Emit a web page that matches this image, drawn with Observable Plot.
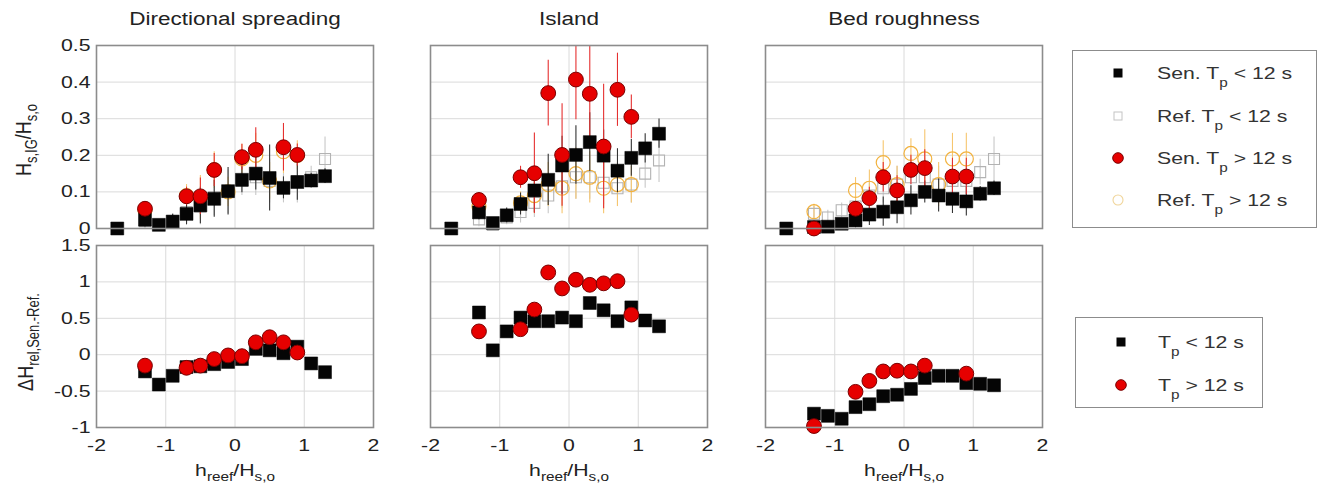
<!DOCTYPE html>
<html><head><meta charset="utf-8">
<script src="https://cdn.jsdelivr.net/npm/d3@7"></script>
<script src="https://cdn.jsdelivr.net/npm/@observablehq/plot@0.6"></script>
<style>
body{margin:0;background:#fff;font-family:"Liberation Sans",Arial,sans-serif;color:#222;}
#root{position:relative;width:1323px;height:502px;overflow:hidden;background:#fff;}
.pl{position:absolute;}
.pl svg{overflow:visible;}
.t{position:absolute;white-space:nowrap;transform:translate(-50%,-50%) scaleX(1.25);line-height:1;}
.ty{position:absolute;white-space:nowrap;transform:translate(-50%,-50%) rotate(-90deg) scaleY(1.25);line-height:1;}
.sb{font-size:0.72em;position:relative;top:0.42em;}
.lt .sb{top:0.62em;}
.legend{position:absolute;border:1.5px solid #8c8c8c;background:#fff;box-sizing:border-box;}
.le{position:absolute;left:0;width:100%;height:0;}
.le svg{position:absolute;left:35px;top:-10px;}
.le .lt{position:absolute;white-space:nowrap;font-size:17px;line-height:1;transform-origin:left center;transform:translateY(-50%) scaleX(1.25);color:#333;}
</style>
</head><body>
<div id="root"></div>
<script>
// ---------- data ----------
const panelTitles = ["Directional spreading", "Island", "Bed roughness"];
const xLo = [-1.7, -1.3, -1.1, -0.9, -0.7, -0.5, -0.3, -0.1, 0.1, 0.3, 0.5, 0.7, 0.9, 1.1, 1.3];
const xHi = [-1.3, -0.7, -0.5, -0.3, -0.1, 0.1, 0.3, 0.5, 0.7, 0.9];
const xDelta = [-1.3, -1.1, -0.9, -0.7, -0.5, -0.3, -0.1, 0.1, 0.3, 0.5, 0.7, 0.9, 1.1, 1.3];
const yTicksTop = [0, 0.1, 0.2, 0.3, 0.4, 0.5];
const yTicksBot = [-1, -0.5, 0, 0.5, 1, 1.5];
const xTicks = [-2, -1, 0, 1, 2];

// Directional spreading: Hs,IG/Hs,o
const dirSenLo    = [0.00, 0.024, 0.010, 0.019, 0.040, 0.063, 0.081, 0.102, 0.133, 0.150, 0.138, 0.111, 0.127, 0.131, 0.143];
const dirSenLoErr = [0.005, 0.02, 0.01, 0.02, 0.03, 0.05, 0.05, 0.065, 0.035, 0.045, 0.09, 0.03, 0.05, 0.02, 0.02];
const dirRefLo    = [0.00, 0.02, 0.01, 0.02, 0.045, 0.06, 0.085, 0.10, 0.13, 0.14, 0.13, 0.11, 0.13, 0.14, 0.19];
const dirRefLoErr = [0.005, 0.02, 0.01, 0.02, 0.03, 0.05, 0.05, 0.06, 0.04, 0.05, 0.06, 0.04, 0.06, 0.03, 0.06];
const dirSenHi    = [0.054, 0.088, 0.088, 0.160, null, 0.195, 0.215, null, 0.222, 0.201];
const dirSenHiErr = [0.02, 0.025, 0.05, 0.045, 0, 0.035, 0.06, 0, 0.065, 0.03];
const dirRefHi    = [0.05, 0.09, 0.085, 0.16, 0.10, 0.19, 0.20, 0.13, 0.21, 0.20];
const dirRefHiErr = [0.02, 0.03, 0.06, 0.05, 0.04, 0.04, 0.06, 0.05, 0.06, 0.04];

// Island
const islSenLo    = [0.00, 0.044, 0.015, 0.036, 0.067, 0.104, 0.133, 0.172, 0.201, 0.236, 0.199, 0.158, 0.193, 0.219, 0.259];
const islSenLoErr = [0.005, 0.02, 0.01, 0.02, 0.03, 0.06, 0.07, 0.08, 0.08, 0.08, 0.07, 0.06, 0.05, 0.04, 0.04];
const islRefLo    = [0.00, 0.025, 0.01, 0.03, 0.045, 0.07, 0.09, 0.115, 0.14, 0.14, 0.125, 0.11, 0.12, 0.15, 0.186];
const islRefLoErr = [0.005, 0.02, 0.01, 0.02, 0.03, 0.04, 0.05, 0.06, 0.06, 0.06, 0.06, 0.05, 0.05, 0.04, 0.06];
const islSenHi    = [0.078, 0.140, 0.151, 0.370, 0.201, 0.407, 0.368, 0.224, 0.379, 0.305];
const islSenHiErr = [0.02, 0.03, 0.11, 0.09, 0.14, 0.11, 0.15, 0.17, 0.10, 0.06];
const islRefHi    = [0.06, 0.07, 0.09, 0.12, 0.11, 0.15, 0.14, 0.11, 0.12, 0.12];
const islRefHiErr = [0.02, 0.03, 0.05, 0.06, 0.07, 0.07, 0.07, 0.07, 0.06, 0.05];

// Bed roughness
const bedSenLo    = [0.00, 0.004, 0.005, 0.013, 0.022, 0.038, 0.046, 0.058, 0.077, 0.10, 0.09, 0.081, 0.074, 0.095, 0.110];
const bedSenLoErr = [0.005, 0.01, 0.01, 0.01, 0.02, 0.03, 0.04, 0.045, 0.04, 0.03, 0.045, 0.04, 0.04, 0.02, 0.02];
const bedRefLo    = [0.00, 0.04, 0.03, 0.05, 0.06, 0.09, 0.11, 0.12, 0.14, 0.14, 0.12, 0.13, 0.13, 0.154, 0.19];
const bedRefLoErr = [0.005, 0.02, 0.02, 0.02, 0.03, 0.04, 0.04, 0.05, 0.05, 0.05, 0.05, 0.05, 0.05, 0.035, 0.06];
const bedSenHi    = [0.00, 0.054, 0.083, 0.140, 0.104, 0.160, 0.165, null, 0.142, 0.142];
const bedSenHiErr = [0.005, 0.02, 0.03, 0.04, 0.04, 0.04, 0.05, 0, 0.05, 0.05];
const bedRefHi    = [0.046, 0.104, 0.11, 0.18, 0.12, 0.205, 0.19, 0.12, 0.19, 0.19];
const bedRefHiErr = [0.02, 0.035, 0.05, 0.06, 0.05, 0.04, 0.08, 0.06, 0.07, 0.07];

// Delta H rel, Sen.-Ref.
const dirDeltaLo = [-0.23, -0.41, -0.29, -0.17, -0.16, -0.13, -0.10, -0.06, 0.08, 0.06, 0.02, 0.11, -0.12, -0.24];
const dirDeltaHi = [-0.15, -0.18, -0.15, -0.06, -0.01, -0.02, 0.17, 0.24, 0.17, 0.03];
const islDeltaLo = [0.58, 0.06, 0.32, 0.51, 0.46, 0.46, 0.51, 0.46, 0.71, 0.61, 0.46, 0.65, 0.47, 0.39];
const islDeltaHi = [0.32, 0.35, 0.62, 1.13, 0.91, 1.03, 0.96, 0.98, 1.01, 0.55];
const bedDeltaLo = [-0.81, -0.84, -0.88, -0.72, -0.68, -0.57, -0.55, -0.47, -0.32, -0.29, -0.29, -0.39, -0.40, -0.42];
const bedDeltaHi = [-0.98, -0.51, -0.36, -0.23, -0.22, -0.23, -0.15, null, null, -0.26];

// ---------- assembly ----------
const rows = (xs, ys, es) => xs.map((x, i) => ({x, y: ys[i], e: es ? es[i] : 0})).filter(d => d.y != null);
const topSets = [
  {senLo: rows(xLo, dirSenLo, dirSenLoErr), refLo: rows(xLo, dirRefLo, dirRefLoErr), senHi: rows(xHi, dirSenHi, dirSenHiErr), refHi: rows(xHi, dirRefHi, dirRefHiErr)},
  {senLo: rows(xLo, islSenLo, islSenLoErr), refLo: rows(xLo, islRefLo, islRefLoErr), senHi: rows(xHi, islSenHi, islSenHiErr), refHi: rows(xHi, islRefHi, islRefHiErr)},
  {senLo: rows(xLo, bedSenLo, bedSenLoErr), refLo: rows(xLo, bedRefLo, bedRefLoErr), senHi: rows(xHi, bedSenHi, bedSenHiErr), refHi: rows(xHi, bedRefHi, bedRefHiErr)}
];
const botSets = [
  {lo: rows(xDelta, dirDeltaLo), hi: rows(xHi, dirDeltaHi)},
  {lo: rows(xDelta, islDeltaLo), hi: rows(xHi, islDeltaHi)},
  {lo: rows(xDelta, bedDeltaLo), hi: rows(xHi, bedDeltaHi)}
];

const C = {
  sen: "#050505", senErr: "#333333",
  ref: "#b3b3b3", refErr: "#c8c8c8",
  red: "#e60000", redStroke: "#7a0000", redErr: "#e53030",
  org: "#f2b23e", orgErr: "#f6c66f",
  grid: "#dadada", frame: "#8c8c8c"
};

const colLeft = [96, 430, 765];
const pw = 277;
const rowTop = [45, 245];
const rowH = [183, 182];
const root = document.getElementById("root");

function stretchTicks(svg) {
  svg.querySelectorAll('g[aria-label$="tick label"] text').forEach(t => {
    const tr = t.getAttribute("transform");
    if (tr) t.setAttribute("transform", tr + " scale(1.25,1)");
    else {
      const x = +(t.getAttribute("x") || 0), y = +(t.getAttribute("y") || 0);
      t.setAttribute("transform", `translate(${x},${y}) scale(1.25,1) translate(${-x},${-y})`);
    }
  });
}

function makePanel(r, c) {
  const top = r === 0;
  const mL = 50, mR = 12, mT = 12, mB = top ? 12 : 40;
  const h = rowH[r];
  const marks = [
    Plot.gridY(top ? [0.1, 0.2, 0.3, 0.4] : [-0.5, 0, 0.5, 1], {stroke: C.grid, strokeOpacity: 1, strokeWidth: 1}),
    Plot.gridX(top ? [0] : [-1, 0, 1], {stroke: C.grid, strokeOpacity: 1, strokeWidth: 1})
  ];
  if (c === 0) marks.push(Plot.axisY(top ? yTicksTop : yTicksBot, {tickSize: 0, tickPadding: 6, tickFormat: d => String(d), label: null, fill: "#222"}));
  if (!top) marks.push(Plot.axisX(xTicks, {tickSize: 0, tickPadding: 11, tickFormat: d => String(d), label: null, fill: "#222"}));
  if (top) {
    const s = topSets[c];
    const err = (data, stroke) => Plot.ruleX(data, {x: "x", y1: d => d.y - d.e, y2: d => d.y + d.e, stroke, strokeWidth: 1.1, clip: true});
    marks.push(
      err(s.refLo, C.refErr),
      err(s.refHi, C.orgErr),
      Plot.dot(s.refLo, {x: "x", y: "y", symbol: "square", r: 6.2, fill: "none", stroke: C.ref, strokeWidth: 1.1}),
      Plot.dot(s.refHi, {x: "x", y: "y", r: 7, fill: "none", stroke: C.org, strokeWidth: 1.2}),
      err(s.senLo, C.senErr),
      err(s.senHi, C.redErr),
      Plot.dot(s.senLo, {x: "x", y: "y", symbol: "square", r: 7.3, fill: C.sen, stroke: "#000", strokeWidth: 0.5}),
      Plot.dot(s.senHi, {x: "x", y: "y", r: 7.4, fill: C.red, stroke: C.redStroke, strokeWidth: 1})
    );
  } else {
    const s = botSets[c];
    marks.push(
      Plot.dot(s.lo, {x: "x", y: "y", symbol: "square", r: 7.3, fill: C.sen, stroke: "#000", strokeWidth: 0.5}),
      Plot.dot(s.hi, {x: "x", y: "y", r: 7.4, fill: C.red, stroke: C.redStroke, strokeWidth: 1})
    );
  }
  marks.push(Plot.frame({stroke: C.frame, strokeWidth: 1.6}));
  const svg = Plot.plot({
    width: pw + mL + mR,
    height: h + mT + mB,
    marginLeft: mL, marginRight: mR, marginTop: mT, marginBottom: mB,
    x: {domain: [-2, 2], axis: null},
    y: {domain: top ? [0, 0.5] : [-1, 1.5], axis: null},
    style: {background: "transparent", fontSize: "17px", fontFamily: "'Liberation Sans', Arial, sans-serif", color: "#222", overflow: "visible"},
    marks
  });
  stretchTicks(svg);
  const div = document.createElement("div");
  div.className = "pl";
  div.style.left = (colLeft[c] - mL) + "px";
  div.style.top = (rowTop[r] - mT) + "px";
  div.appendChild(svg);
  root.appendChild(div);
}

for (let r = 0; r < 2; r++) for (let c = 0; c < 3; c++) makePanel(r, c);

function addText(html, x, y, size, cls) {
  const d = document.createElement("div");
  d.className = cls || "t";
  d.style.left = x + "px";
  d.style.top = y + "px";
  d.style.fontSize = size + "px";
  d.innerHTML = html;
  root.appendChild(d);
}

panelTitles.forEach((t, i) => addText(t, colLeft[i] + pw / 2, 19, 18));
colLeft.forEach(l => addText('h<span class="sb">reef</span>/H<span class="sb">s,o</span>', l + pw / 2, 470, 17));
addText('H<span class="sb">s,IG</span>/H<span class="sb">s,o</span>', 23, 140, 18, "ty");
addText('&Delta;H<span class="sb">rel,Sen.-Ref.</span>', 25, 342, 18, "ty");

// ---------- legends ----------
const legendTop = [
  {label: 'Sen. T<span class="sb">p</span> &lt; 12 s', m: "sq"},
  {label: 'Ref. T<span class="sb">p</span> &lt; 12 s', m: "osq"},
  {label: 'Sen. T<span class="sb">p</span> &gt; 12 s', m: "ci"},
  {label: 'Ref. T<span class="sb">p</span> &gt; 12 s', m: "oci"}
];
const legendBot = [
  {label: 'T<span class="sb">p</span> &lt; 12 s', m: "sq"},
  {label: 'T<span class="sb">p</span> &gt; 12 s', m: "ci"}
];
function marker(m) {
  const s = {
    sq: `<rect x="5.5" y="5.5" width="9" height="9" fill="#050505"/>`,
    osq: `<rect x="6" y="6" width="8" height="8" fill="none" stroke="#c4c4c4" stroke-width="1"/>`,
    ci: `<circle cx="10" cy="10" r="5.3" fill="${C.red}" stroke="${C.redStroke}" stroke-width="1"/>`,
    oci: `<circle cx="10" cy="10" r="5" fill="none" stroke="#f0d59a" stroke-width="1.1"/>`
  }[m];
  return `<svg width="20" height="20">${s}</svg>`;
}
function makeLegend(items, left, top, w, h, ys, textLeft) {
  const box = document.createElement("div");
  box.className = "legend";
  Object.assign(box.style, {left: left + "px", top: top + "px", width: w + "px", height: h + "px"});
  items.forEach((it, i) => {
    const e = document.createElement("div");
    e.className = "le";
    e.style.top = ys[i] + "px";
    e.innerHTML = marker(it.m) + `<span class="lt" style="left:${textLeft}px">${it.label}</span>`;
    box.appendChild(e);
  });
  root.appendChild(box);
}
makeLegend(legendTop, 1072, 50, 245, 178, [22, 65, 107, 149], 84);
makeLegend(legendBot, 1075, 317, 188, 91, [24, 67], 82);
</script>
</body></html>
